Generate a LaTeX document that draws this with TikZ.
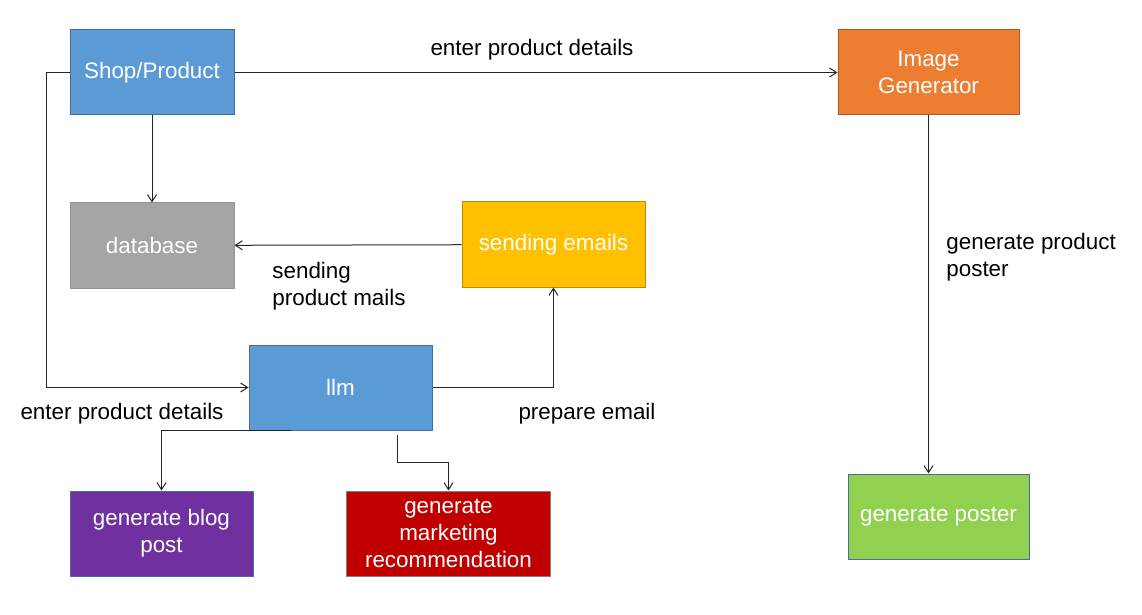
\documentclass[tikz,border=0pt]{standalone}
\usepackage{fontspec}
\setmainfont{Liberation Sans}
\usetikzlibrary{arrows.meta}
\definecolor{boxblue}{HTML}{5B9BD5}
\definecolor{edgeblue}{HTML}{41719C}
\definecolor{boxgray}{HTML}{A5A5A5}
\definecolor{boxyellow}{HTML}{FFC000}
\definecolor{edgeyellow}{HTML}{BC8C00}
\definecolor{boxpurple}{HTML}{7030A0}
\definecolor{boxred}{HTML}{C00000}
\definecolor{boxorange}{HTML}{ED7D31}
\definecolor{edgeorange}{HTML}{AE5A21}
\definecolor{boxgreen}{HTML}{92D050}

\begin{document}
\begin{tikzpicture}
[x=0.5pt,y=-0.5pt,%
  every node/.style={inner sep=0pt,align=center},%
  box/.style={draw=edgeblue,line width=0.5pt,text=white,minimum height=42.5pt},%
  flow/.style={-{Straight Barb[length=3.5pt,width=4.5pt]},line width=0.5pt,black!85}]
\fontsize{11.2}{13.5}\selectfont
\useasboundingbox (0,0) rectangle (1142,615);
\node[box,fill=boxblue,minimum width=82pt] (shop) at (152,72.5) {Shop/Product};
\node[box,fill=boxgray,draw=boxgray!90!black,minimum width=82pt] (db) at (152,245.5) {database};
\node[box,fill=boxyellow,draw=edgeyellow,minimum width=91.5pt] (mail) at (553.5,244.5) {sending emails};
\node[box,fill=boxblue,minimum width=91.5pt] (llm) at (340.5,387.5) {llm};
\node[box,fill=boxpurple,minimum width=91.5pt] (blog) at (161.5,533.5) {generate blog\\post};
\node[box,fill=boxred,draw=black!50,minimum width=102pt] (mkt) at (448.5,533.5) {generate\\marketing\\recommendation};
\node[box,fill=boxorange,draw=edgeorange,minimum width=90.5pt] (imggen) at (928.5,72.5) {Image\\Generator};
\node[box,fill=boxgreen,minimum width=90.5pt] (poster) at (938.5,516.5) {generate poster};
\coordinate (lbend) at (46,72.5);
\coordinate (mbend) at (397,462);
% connectors
\draw[flow] (shop) -- (imggen);
\draw[flow] (shop) -- (db);
\draw[flow] (shop.west) -- (lbend) |- (llm.west);
\draw[flow] (mail) -- (db);
\draw[flow] (llm.east) -| (mail.south);
\draw[flow] ([xshift=-25pt]llm.south) -| (blog.north);
\draw[flow] ([xshift=28.25pt,yshift=-2pt]llm.south) -- (mbend) -| (mkt.north);
\draw[flow] (imggen) -- (imggen |- poster.north);
% labels
\node (l1) at (532,50) {enter product details};
\node (l2) at (122,414) {enter product details};
\node[anchor=west,align=left] (l3) at (272,286) {sending\\product mails};
\node (l4) at (587,414) {prepare email};
\node[anchor=west,align=left] (l5) at (946,257) {generate product\\poster};
\end{tikzpicture}
\end{document}
